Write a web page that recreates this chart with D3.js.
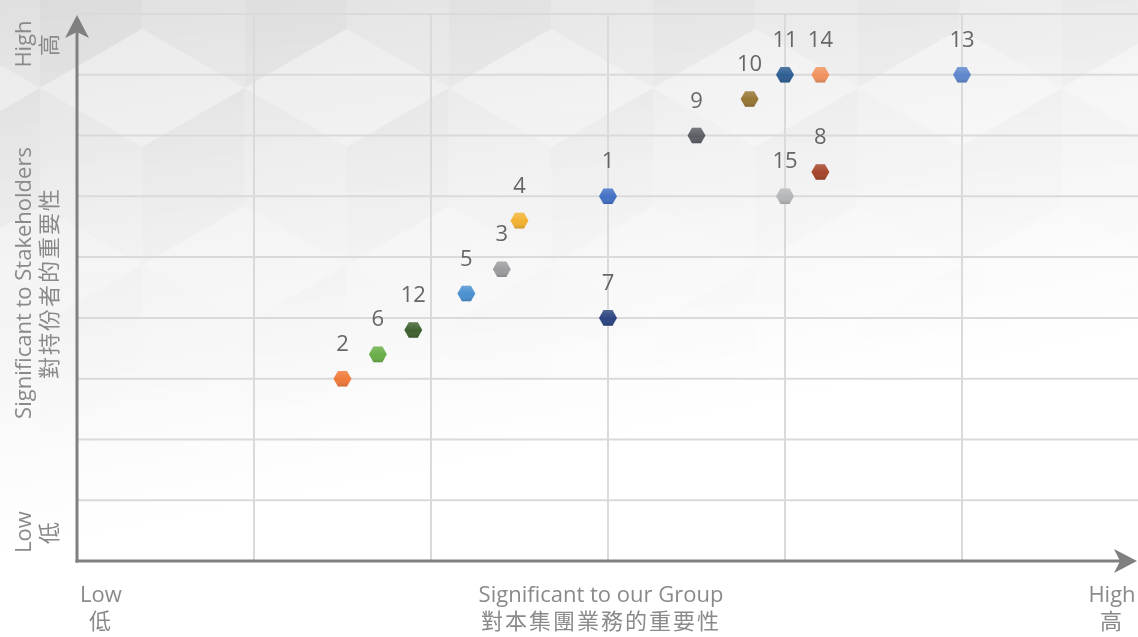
<!DOCTYPE html>
<html>
<head>
<meta charset="utf-8">
<script src="https://cdn.jsdelivr.net/npm/d3@7"></script>
<style>
  body { margin: 0; background: #fff; }
  svg { display: block; }
</style>
</head>
<body>
<div id="chart"></div>
<script>
// ---- DATA ----
const issueIds   = ["1", "2", "3", "4", "5", "6", "7", "8", "9", "10", "11", "12", "13", "14", "15"];
const groupScore = [3.0, 1.5, 2.4, 2.5, 2.2, 1.7, 3.0, 4.2, 3.5, 3.8, 4.0, 1.9, 5.0, 4.2, 4.0];
const stakeScore = [6.0, 3.0, 4.8, 5.6, 4.4, 3.4, 4.0, 6.4, 7.0, 7.6, 8.0, 3.8, 8.0, 8.0, 6.0];
const issueColors = ["#4070c4", "#f07a3a", "#9c9ca0", "#f3b331", "#4a90d0", "#6aae48", "#2b4480",
                     "#a5442a", "#5a5d62", "#977534", "#2d5d92", "#3f6130", "#5f86cc", "#f0925e", "#b5b6b9"];
const xTicks = [0, 1, 2, 3, 4, 5, 6];
const yTicks = [0, 1, 2, 3, 4, 5, 6, 7, 8, 9];
const xAxisLabels = [["Low", "低"], ["Significant to our Group", "對本集團業務的重要性"], ["High", "高"]];
const yAxisLabels = [["Low", "低"], ["Significant to Stakeholders", "對持份者的重要性"], ["High", "高"]];

const W = 1138, H = 637;
const x = d3.scaleLinear().domain([0, 6]).range([77, 1139]);
const y = d3.scaleLinear().domain([0, 9]).range([561, 14]);

const svg = d3.select("#chart").append("svg")
    .attr("width", W).attr("height", H);

const defs = svg.append("defs");

// background wash
const bg = defs.append("linearGradient").attr("id", "bgGrad")
    .attr("x1", 0).attr("y1", 0).attr("x2", 0.35).attr("y2", 1);
bg.append("stop").attr("offset", "0%").attr("stop-color", "#e4e4e4");
bg.append("stop").attr("offset", "40%").attr("stop-color", "#f4f4f4");
bg.append("stop").attr("offset", "78%").attr("stop-color", "#ffffff");

const fade = defs.append("linearGradient").attr("id", "fadeGrad")
    .attr("x1", 0).attr("y1", 0).attr("x2", 0.2).attr("y2", 1);
fade.append("stop").attr("offset", "0%").attr("stop-color", "#fff").attr("stop-opacity", 1);
fade.append("stop").attr("offset", "70%").attr("stop-color", "#fff").attr("stop-opacity", 0);
defs.append("mask").attr("id", "fadeMask")
  .append("rect").attr("width", W).attr("height", H).attr("fill", "url(#fadeGrad)");

const shade = defs.append("linearGradient").attr("id", "hexShade")
    .attr("x1", 0).attr("y1", 0).attr("x2", 0).attr("y2", 1);
shade.append("stop").attr("offset", "0%").attr("stop-color", "#fff").attr("stop-opacity", 0.18);
shade.append("stop").attr("offset", "55%").attr("stop-color", "#fff").attr("stop-opacity", 0);
shade.append("stop").attr("offset", "100%").attr("stop-color", "#000").attr("stop-opacity", 0.15);

svg.append("rect").attr("width", W).attr("height", H).attr("fill", "url(#bgGrad)");

// faint cube pattern
const cubes = svg.append("g").attr("mask", "url(#fadeMask)");
const R = 118, cw = R * Math.sqrt(3);
for (let row = -1; row < 4; row++) {
  for (let col = -1; col < 7; col++) {
    const cx = col * cw + (row % 2 ? cw / 2 : 0) + 40;
    const cy = row * R * 1.5 - 30;
    const pt = a => [cx + R * Math.cos(a * Math.PI / 180), cy + R * Math.sin(a * Math.PI / 180)];
    const top = [pt(-90), pt(-30), [cx, cy], pt(-150)];
    const left = [pt(-150), [cx, cy], pt(90), pt(150)];
    const right = [pt(-30), pt(30), pt(90), [cx, cy]];
    cubes.append("polygon").attr("points", top.join(" ")).attr("fill", "#fff").attr("opacity", 0.22);
    cubes.append("polygon").attr("points", left.join(" ")).attr("fill", "#000").attr("opacity", 0.015);
    cubes.append("polygon").attr("points", right.join(" ")).attr("fill", "#000").attr("opacity", 0.035);
  }
}

// ---- GRID ----
const grid = svg.append("g");
grid.selectAll("line.v").data(xTicks.slice(1)).join("line")
    .attr("x1", d => x(d)).attr("x2", d => x(d))
    .attr("y1", y(9)).attr("y2", y(0))
    .attr("stroke", "#dadada").attr("stroke-width", 2);
grid.selectAll("line.h").data(yTicks.slice(1)).join("line")
    .attr("x1", x(0)).attr("x2", x(6))
    .attr("y1", d => y(d)).attr("y2", d => y(d))
    .attr("stroke", "#dadada").attr("stroke-width", 2);

// ---- AXES ----
const axisColor = "#808080";
svg.append("line").attr("x1", x(0)).attr("x2", x(0)).attr("y1", y(0) + 1.5).attr("y2", y(9) + 15)
    .attr("stroke", axisColor).attr("stroke-width", 3);
svg.append("line").attr("x1", x(0) - 1.5).attr("x2", x(6) - 17).attr("y1", y(0)).attr("y2", y(0))
    .attr("stroke", axisColor).attr("stroke-width", 3);
const arrow = "M0,0 L-23,-12 L-17,0 L-23,12 Z";
svg.append("path").attr("d", arrow).attr("fill", axisColor)
    .attr("transform", `translate(${x(0)},${y(9) + 1}) rotate(-90)`);
svg.append("path").attr("d", arrow).attr("fill", axisColor)
    .attr("transform", `translate(${x(6) - 2},${y(0)})`);

// ---- AXIS LABELS ----
const labelFont = "'Open Sans', 'Noto Sans', sans-serif";
const cjkFont = "'Noto Sans CJK TC', 'Noto Sans CJK SC', sans-serif";
const labelColor = "#8a8a8a";
const xLabelPos = [101, 601, 1112];
xAxisLabels.forEach((pair, i) => {
  svg.append("text").attr("x", xLabelPos[i]).attr("y", 602)
      .attr("text-anchor", "middle").attr("fill", labelColor)
      .style("font-family", labelFont).style("font-size", "22px").text(pair[0]);
  svg.append("text").attr("x", xLabelPos[i]).attr("y", 629)
      .attr("text-anchor", "middle").attr("fill", labelColor)
      .style("font-family", cjkFont).style("font-size", "22px").style("letter-spacing", "2px").text(pair[1]);
});
const yLabelPos = [532, 283, 44];
yAxisLabels.forEach((pair, i) => {
  svg.append("text").attr("transform", `translate(31,${yLabelPos[i]}) rotate(-90)`)
      .attr("text-anchor", "middle").attr("fill", labelColor)
      .style("font-family", labelFont).style("font-size", "22px").text(pair[0]);
  svg.append("text").attr("transform", `translate(57,${yLabelPos[i]}) rotate(-90)`)
      .attr("text-anchor", "middle").attr("fill", labelColor)
      .style("font-family", cjkFont).style("font-size", "22px").style("letter-spacing", "2px").text(pair[1]);
});

// ---- POINTS ----
const hexagon = {
  draw(ctx, size) {
    const r = Math.sqrt(size * 2 / (3 * Math.sqrt(3)));
    for (let k = 0; k < 6; k++) {
      const a = k * Math.PI / 3;
      const px = r * Math.cos(a), py = r * Math.sin(a);
      k ? ctx.lineTo(px, py) : ctx.moveTo(px, py);
    }
    ctx.closePath();
  }
};
const hexPath = d3.symbol().type(hexagon).size(210);

const points = issueIds.map((id, i) => ({ id, gx: groupScore[i], sy: stakeScore[i], color: issueColors[i] }));

const marks = svg.append("g").selectAll("g").data(points).join("g")
    .attr("transform", d => `translate(${x(d.gx)},${y(d.sy)})`);
marks.append("path").attr("d", hexPath).attr("fill", d => d.color);
marks.append("path").attr("d", hexPath).attr("fill", "url(#hexShade)");
marks.append("text")
    .attr("y", -28)
    .attr("text-anchor", "middle")
    .attr("fill", "#666")
    .style("font-family", labelFont)
    .style("font-size", "22px")
    .text(d => d.id);
</script>
</body>
</html>
